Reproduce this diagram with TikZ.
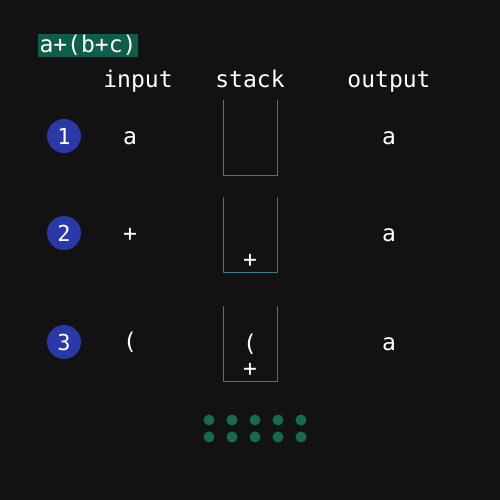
\documentclass[tikz,border=0pt]{standalone}
\usepackage{fontspec}
\setmonofont{DejaVu Sans Mono}
\definecolor{bg}{HTML}{121212}
\definecolor{hl}{HTML}{0F5E4A}
\definecolor{stepblue}{HTML}{2B38A8}
\definecolor{stackline}{HTML}{3A7C8C}
\definecolor{dotgreen}{HTML}{17694F}
\tikzset{
  txt/.style={text=white,font=\ttfamily\fontsize{23}{23}\selectfont,inner sep=0pt,anchor=base},
  stepnum/.style={circle,fill=stepblue,minimum size=34pt,inner sep=0pt,text=white,font=\ttfamily\fontsize{22}{22}\selectfont},
  stackbox/.style={draw=stackline,line width=1pt},
  dotmark/.style={circle,fill=dotgreen,minimum size=11pt,inner sep=0pt}
}
\begin{document}
\begin{tikzpicture}[x=1pt,y=-1pt]
\fill[bg] (0,0) rectangle (500,500);
\useasboundingbox (0,0) rectangle (500,500);
% header
\fill[hl] (38,34) rectangle (138,57);
\node[txt] (hdr) at (88,53) {a+(b+c)};
% column titles
\node[txt] (cin) at (138,88) {input};
\node[txt] (cst) at (250,88) {stack};
\node[txt] (cout) at (389,88) {output};
% row 1
\node[stepnum] (s1) at (64,136) {1};
\node[txt] (i1) at (130,144) {a};
\draw[stackbox] (223,100) -- (223,175) -- (277,175) -- (277,100);
\node[txt] (o1) at (389,144) {a};
% row 2
\node[stepnum] (s2) at (64,233) {2};
\node[txt] (i2) at (130,241) {+};
\draw[stackbox] (223,197) -- (223,272) -- (277,272) -- (277,197);
\node[txt] (k21) at (250,267) {+};
\node[txt] (o2) at (389,241) {a};
% row 3
\node[stepnum] (s3) at (64,342) {3};
\node[txt] (i3) at (130,349) {(};
\draw[stackbox] (223,306) -- (223,381) -- (277,381) -- (277,306);
\node[txt] (k31) at (250,351) {(};
\node[txt] (k32) at (250,376) {+};
\node[txt] (o3) at (389,350) {a};
% dots
\foreach \i/\x in {1/209,2/232,3/255,4/278,5/301}{
  \node[dotmark] (da\i) at (\x,420) {};
  \node[dotmark] (db\i) at (\x,437) {};
}
\end{tikzpicture}
\end{document}
